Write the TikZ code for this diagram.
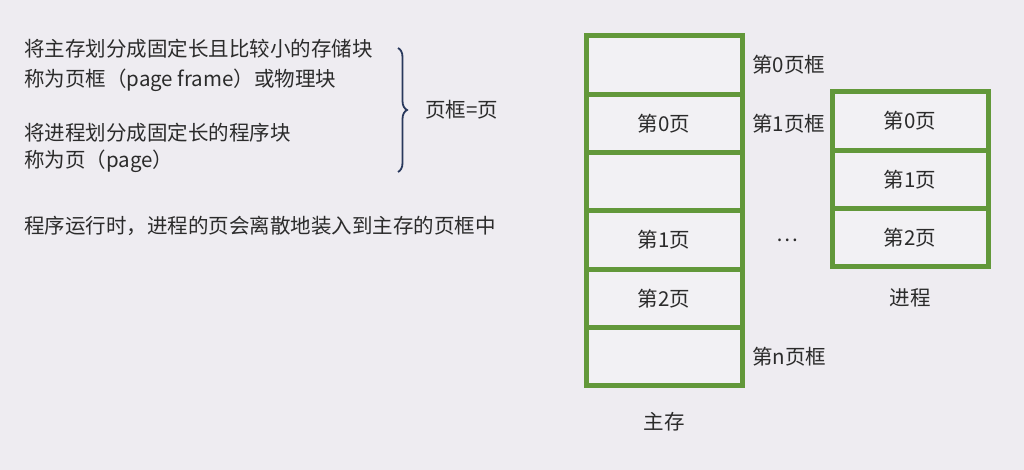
\documentclass[tikz,border=0pt]{standalone}
\usepackage{fontspec}
\setmainfont{Noto Sans CJK SC}
\usetikzlibrary{positioning}
\usetikzlibrary{decorations.pathreplacing}
\definecolor{bgcol}{RGB}{238,236,241}
\definecolor{boxgreen}{RGB}{98,152,58}
\definecolor{txtcol}{RGB}{43,43,43}
\definecolor{bracecol}{RGB}{40,56,92}
\newcommand{\cnfont}{\fontsize{20.5}{24}\selectfont}
\tikzset{
  pagebox/.style={draw=boxgreen, line width=5pt, fill=white!25!bgcol,
    minimum width=156pt, minimum height=58.3pt, inner sep=0pt, outer sep=0pt,
    text=txtcol, font=\cnfont},
  lbl/.style={inner sep=0pt, text=txtcol, font=\cnfont},
}

\begin{document}
\begin{tikzpicture}[x=1pt, y=-1pt]

  % Background
  \fill[bgcol] (0,0) rectangle (1024,470);

  % Define nodes
  \node[lbl, anchor=west] (t1) at (24,49) {将主存划分成固定长且比较小的存储块};
  \node[lbl, anchor=west] (t2) at (24,80) {称为页框（page frame）或物理块};
  \node[lbl, anchor=west] (t3) at (24,133) {将进程划分成固定长的程序块};
  \node[lbl, anchor=west] (t4) at (24,161) {称为页（page）};
  \node[lbl, anchor=west] (t5) at (24,226) {程序运行时，进程的页会离散地装入到主存的页框中};

  \coordinate (btop) at (398,48);
  \coordinate (bbot) at (398,172);
  \coordinate (btip) at (408,110);
  \node[lbl, right=17pt of btip] (eq) {页框=页};

  % Main memory
  \node[pagebox] (f0) at (664,65) {};
  \node[pagebox, below=0pt of f0] (f1) {第0页};
  \node[pagebox, below=0pt of f1] (f2) {};
  \node[pagebox, below=0pt of f2] (f3) {第1页};
  \node[pagebox, below=0pt of f3] (f4) {第2页};
  \node[pagebox, below=0pt of f4] (f5) {};
  \node[lbl, right=10pt of f0] (l0) {第0页框};
  \node[lbl, right=10pt of f1] (l1) {第1页框};
  \node[lbl, right=10pt of f5] (ln) {第n页框};
  \node[lbl, right=34pt of f3] (dots) {…};
  \node[lbl, below=26pt of f5] (mem) {主存};

  % Process
  \node[pagebox] (p0) at (910,121) {第0页};
  \node[pagebox, below=0pt of p0] (p1) {第1页};
  \node[pagebox, below=0pt of p1] (p2) {第2页};
  \node[lbl, below=22pt of p2] (proc) {进程};

  % Brace
  \draw[bracecol, line width=1.8pt, decorate, decoration={brace, amplitude=9pt}] (btop) -- (bbot);

\end{tikzpicture}
\end{document}
